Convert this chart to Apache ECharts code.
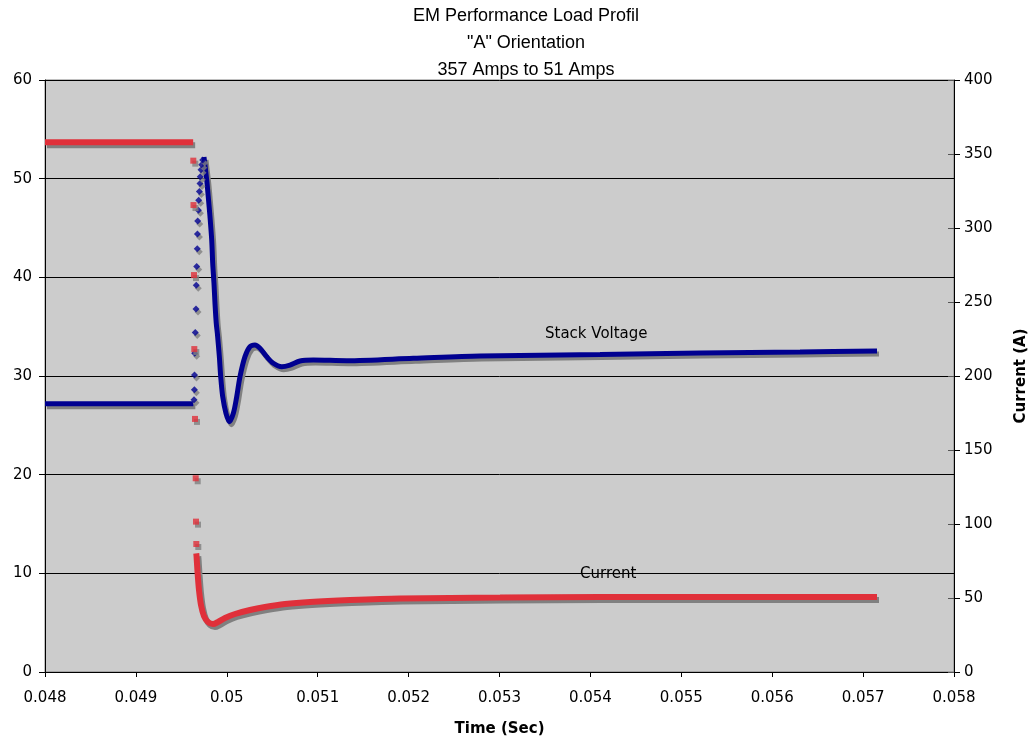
<!DOCTYPE html>
<html>
<head>
<meta charset="utf-8">
<script src="https://cdn.jsdelivr.net/npm/echarts@6/dist/echarts.min.js"></script>
<style>html,body{margin:0;padding:0;background:#fff;overflow:hidden}#c{width:1031px;height:738px}</style>
</head>
<body>
<div id="c"></div>
<script>
// ---- data ----
const titleLines = ['EM Performance Load Profil', '"A" Orientation', '357 Amps to 51 Amps'];
const xTicks = { min: 0.048, max: 0.058, step: 0.001 };
const leftTicks = { min: 0, max: 60, step: 10 };
const rightTicks = { min: 0, max: 400, step: 50 };

// Stack voltage (V, left axis)
const voltFlatT = [0.048, 0.049632];
const voltFlat  = [27.2, 27.2];
const voltRiseT = [0.049639, 0.049643, 0.049645, 0.049647, 0.049653, 0.049661, 0.049664, 0.049669, 0.049675, 0.049677,
                   0.049680, 0.049687, 0.049691, 0.049698, 0.049705, 0.049708, 0.049716, 0.049724, 0.049735];
const voltRise  = [27.6, 28.6, 30.1, 32.3, 34.4, 36.8, 39.2, 41.1, 42.9, 44.4,
                   45.7, 46.8, 47.8, 48.7, 49.5, 50.2, 50.9, 51.4, 51.9];
const voltTailT = [0.049749, 0.049779, 0.049796, 0.049815, 0.049834, 0.049845, 0.049859, 0.049870, 0.049884, 0.049896,
                   0.049918, 0.049933, 0.049955, 0.049991, 0.050028, 0.050072, 0.050109, 0.050145, 0.050200, 0.050255,
                   0.050310, 0.050365, 0.050439, 0.050512, 0.050604, 0.050695, 0.050805, 0.050952, 0.051319, 0.052052,
                   0.052785, 0.054106, 0.055206, 0.056306, 0.057153];
const voltTail  = [52.2, 49.86, 48.17, 46.15, 43.78, 41.42, 39.39, 37.37, 35.34, 34.33,
                   31.96, 29.93, 27.90, 26.22, 25.37, 26.22, 27.90, 29.93, 31.96, 32.97,
                   33.14, 32.81, 31.96, 31.29, 30.94, 31.11, 31.52, 31.62, 31.55, 31.79,
                   32.03, 32.18, 32.33, 32.43, 32.53];

// Current (A, right axis)
const curFlatT = [0.048, 0.049630];
const curFlat  = [358, 358];
const curDropT = [0.0496315, 0.0496337, 0.0496392, 0.0496425, 0.049650, 0.0496579, 0.0496612, 0.0496645];
const curDrop  = [345.5, 315.5, 268.2, 218.2, 171.0, 130.9, 101.6, 86.5];
const curTailT = [0.049664, 0.049667, 0.049678, 0.049694, 0.049716, 0.049749, 0.049793, 0.049848, 0.049903, 0.049980,
                  0.050090, 0.050255, 0.050420, 0.050640, 0.050915, 0.051355, 0.051905, 0.053006, 0.054106, 0.055206,
                  0.057153];
const curTail  = [80.2, 78.4, 67.6, 55.4, 45.3, 37.8, 33.8, 32.4, 33.8, 36.5,
                  39.2, 41.9, 43.9, 45.9, 47.3, 48.6, 49.7, 50.3, 50.7, 50.7,
                  50.7];

const annotations = [
  { text: 'Stack Voltage', left: 545, top: 327 },
  { text: 'Current', left: 580, top: 567 }
];

// ---- chart ----
const pair = (ts, vs) => ts.map((t, i) => [t, vs[i]]);
const BLUE = '#000090', RED = '#e0303a', SHADOW = '#808080';
const lineShadow = { shadowColor: SHADOW, shadowBlur: 0, shadowOffsetX: 2, shadowOffsetY: 3 };
const fmtX = v => String(+v.toFixed(3));
const axisFont = { fontFamily: 'DejaVu Sans', fontSize: 15, color: '#000' };

const chart = echarts.init(document.getElementById('c'), null, { renderer: 'canvas' });
chart.setOption({
  animation: false,
  backgroundColor: '#fff',
  title: {
    text: titleLines.join('\n'),
    left: 521, top: -2, textAlign: 'center',
    textStyle: { fontFamily: 'Liberation Sans', fontSize: 18, fontWeight: 'normal', color: '#000', lineHeight: 27 }
  },
  grid: { left: 45, right: 77, top: 80, bottom: 66, outerBoundsMode: 'none', containLabel: false,
          show: true, backgroundColor: '#cccccc', borderColor: '#808080', borderWidth: 1 },
  xAxis: {
    type: 'value', min: xTicks.min, max: xTicks.max, interval: xTicks.step,
    name: 'Time (Sec)', nameLocation: 'middle', nameGap: 50,
    nameTextStyle: { fontFamily: 'DejaVu Sans', fontSize: 15, fontWeight: 'bold', color: '#000' },
    axisLine: { lineStyle: { color: '#000', width: 1 } },
    axisTick: { inside: false, length: 5, lineStyle: { color: '#000' } },
    axisLabel: Object.assign({ formatter: fmtX, margin: 19 }, axisFont),
    splitLine: { show: false }
  },
  yAxis: [
    {
      type: 'value', min: leftTicks.min, max: leftTicks.max, interval: leftTicks.step, position: 'left',
      axisLine: { show: true, lineStyle: { color: '#000', width: 1 } },
      axisTick: { show: true, length: 6, lineStyle: { color: '#000' } },
      axisLabel: Object.assign({ margin: 13 }, axisFont),
      splitLine: { show: true, lineStyle: { color: '#000', width: 1 } }
    },
    {
      type: 'value', min: rightTicks.min, max: rightTicks.max, interval: rightTicks.step, position: 'right',
      name: 'Current (A)', nameLocation: 'middle', nameGap: 60,
      nameTextStyle: { fontFamily: 'DejaVu Sans', fontSize: 15, fontWeight: 'bold', color: '#000' },
      axisLine: { show: true, lineStyle: { color: '#000', width: 1 } },
      axisTick: { show: true, length: 6, lineStyle: { color: '#000' } },
      axisLabel: Object.assign({ margin: 10 }, axisFont),
      splitLine: { show: false }
    },
    {
      // inner half of the right-axis cross ticks
      type: 'value', min: rightTicks.min, max: rightTicks.max, interval: rightTicks.step, position: 'right',
      axisLine: { show: false },
      axisTick: { show: true, inside: true, length: 6, lineStyle: { color: '#555' } },
      axisLabel: { show: false },
      splitLine: { show: false }
    }
  ],
  series: [
    { type: 'line', yAxisIndex: 0, data: pair(voltFlatT, voltFlat), showSymbol: false, z: 2,
      lineStyle: Object.assign({ color: BLUE, width: 5 }, lineShadow) },
    { type: 'scatter', yAxisIndex: 0, data: pair(voltRiseT, voltRise), symbol: 'diamond', symbolSize: 7, z: 2,
      itemStyle: Object.assign({ color: BLUE }, lineShadow) },
    { type: 'line', yAxisIndex: 0, data: pair(voltTailT, voltTail), showSymbol: false, smooth: 0.3, z: 2,
      lineStyle: Object.assign({ color: BLUE, width: 5 }, lineShadow) },
    { type: 'line', yAxisIndex: 1, data: pair(curFlatT, curFlat), showSymbol: false, z: 3,
      lineStyle: Object.assign({ color: RED, width: 6 }, lineShadow) },
    { type: 'scatter', yAxisIndex: 1, data: pair(curDropT, curDrop), symbol: 'rect', symbolSize: 6, z: 3,
      itemStyle: Object.assign({ color: RED }, lineShadow) },
    { type: 'line', yAxisIndex: 1, data: pair(curTailT, curTail), showSymbol: false, smooth: 0.3, z: 3,
      lineStyle: Object.assign({ color: RED, width: 6 }, lineShadow) }
  ],
  graphic: annotations.map(a => ({
    type: 'text', left: a.left, top: a.top, z: 10,
    style: { text: a.text, fontFamily: 'DejaVu Sans', fontSize: 15, fill: '#000' }
  }))
});
</script>
</body>
</html>
